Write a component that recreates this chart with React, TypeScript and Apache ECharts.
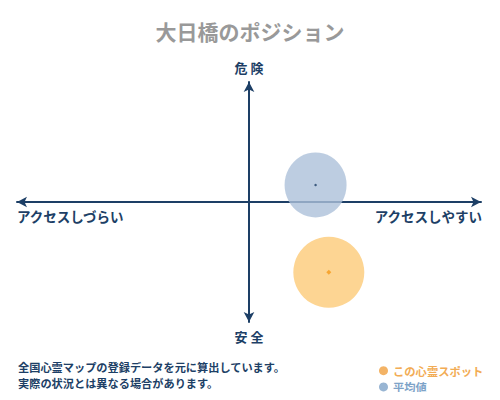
import React, { useEffect, useRef } from 'react';
import * as echarts from 'echarts';

const titleText = '大日橋のポジション';
const axisLabels = ['危 険', '安 全', 'アクセスしづらい', 'アクセスしやすい'];
const noteLines = ['全国心霊マップの登録データを元に算出しています。', '実際の状況とは異なる場合があります。'];
const seriesNames = ['この心霊スポット', '平均値'];
// [x, y] position (-100..100)
const spotPoint = [34.4, -58.6];
const averagePoint = [28.7, 14.2];

const FONT = '"Noto Sans CJK JP", sans-serif';
const NAVY = '#1d3f66';

const App = () => {
    const chartRef = useRef<HTMLDivElement>(null);

    useEffect(() => {
        if (!chartRef.current) return;
        const myChart = echarts.init(chartRef.current, null, { renderer: 'svg' });

        const axisBase = {
            type: 'value',
            min: -100,
            max: 100,
            splitLine: { show: false },
            axisTick: { show: false },
            axisLabel: { show: false },
        };
        const axisLine = {
            onZero: true,
            symbol: ['arrow', 'arrow'],
            symbolSize: [8, 10],
            lineStyle: { color: NAVY, width: 2 },
        };

        myChart.setOption({
            animation: false,
            title: {
                text: titleText,
                left: 'center',
                top: 15,
                textStyle: { color: '#999', fontSize: 21, fontWeight: 'bold', fontFamily: FONT },
            },
            grid: { left: 17, right: 19, top: 82, bottom: 78 },
            xAxis: { ...axisBase, axisLine },
            yAxis: { ...axisBase, axisLine },
            legend: {
                orient: 'vertical',
                left: 374,
                top: 360,
                itemWidth: 9,
                itemHeight: 9,
                itemGap: 5,
                icon: 'circle',
                textStyle: { fontSize: 11.3, fontFamily: FONT, fontWeight: 'bold' },
                data: [
                    { name: seriesNames[0], itemStyle: { color: '#f0a040' }, textStyle: { color: '#f2ac55' } },
                    { name: seriesNames[1], itemStyle: { color: '#7ea3c8' }, textStyle: { color: '#7ea3c8' } },
                ],
            },
            series: [
                {
                    name: seriesNames[1],
                    type: 'scatter',
                    symbol: 'circle',
                    symbolSize: [62, 65],
                    itemStyle: { color: '#adc1da' },
                    data: [averagePoint],
                    z: 2,
                },
                {
                    name: seriesNames[0],
                    type: 'scatter',
                    symbol: 'circle',
                    symbolSize: 71,
                    itemStyle: { color: '#fdcb78' },
                    data: [spotPoint],
                    z: 2,
                },
                {
                    type: 'scatter',
                    symbolSize: 2.5,
                    itemStyle: { color: '#1d3f66' },
                    data: [averagePoint],
                    z: 3,
                },
                {
                    type: 'scatter',
                    symbol: 'diamond',
                    symbolSize: 5,
                    itemStyle: { color: '#f59a1a' },
                    data: [spotPoint],
                    z: 3,
                },
            ],
            graphic: [
                {
                    type: 'text', x: 249, y: 67,
                    style: { text: axisLabels[0], fill: NAVY, font: `bold 13px ${FONT}`, align: 'center', verticalAlign: 'middle' },
                },
                {
                    type: 'text', x: 249, y: 336,
                    style: { text: axisLabels[1], fill: NAVY, font: `bold 13px ${FONT}`, align: 'center', verticalAlign: 'middle' },
                },
                {
                    type: 'text', x: 17, y: 216,
                    style: { text: axisLabels[2], fill: NAVY, font: `bold 13.5px ${FONT}`, align: 'left', verticalAlign: 'middle' },
                },
                {
                    type: 'text', x: 482, y: 216,
                    style: { text: axisLabels[3], fill: NAVY, font: `bold 13.5px ${FONT}`, align: 'right', verticalAlign: 'middle' },
                },
                {
                    type: 'text', x: 18, y: 367,
                    style: { text: noteLines[0], fill: NAVY, font: `bold 11.2px ${FONT}`, verticalAlign: 'middle' },
                },
                {
                    type: 'text', x: 18, y: 383,
                    style: { text: noteLines[1], fill: NAVY, font: `bold 11.2px ${FONT}`, verticalAlign: 'middle' },
                },
            ],
        });

        return () => {
            myChart.dispose();
        };
    }, []);

    return <div ref={chartRef} style={{ width: '500px', height: '400px', margin: '-8px' }} />;
};

export default App;
